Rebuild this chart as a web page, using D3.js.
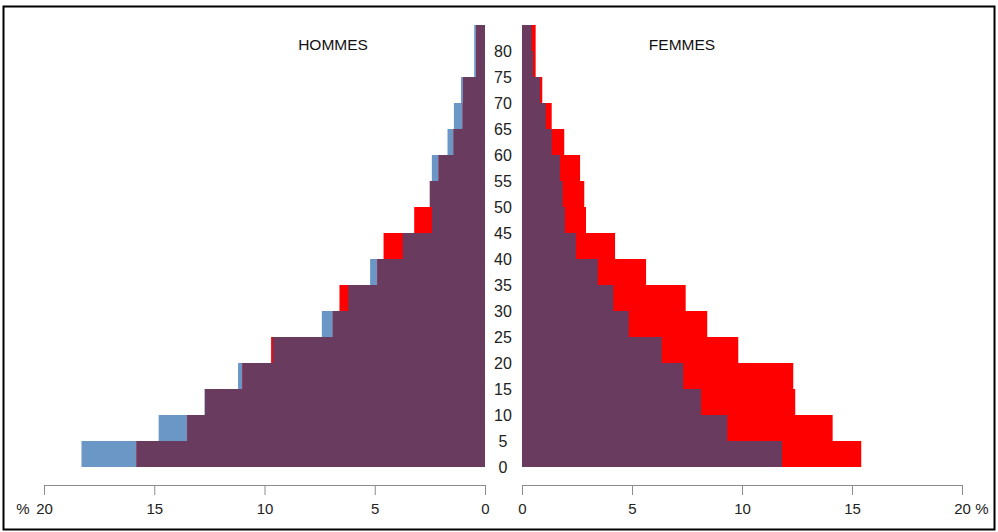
<!doctype html>
<html>
<head>
<meta charset="utf-8">
<script src="https://d3js.org/d3.v7.min.js"></script>
<style>
  body { margin: 0; background: #fff; }
  svg { display: block; font-family: "Liberation Sans", Arial, sans-serif; }
  .axis path, .axis line { stroke: #8c8c8c; }
  .axis text { font-size: 15px; fill: #222; }
</style>
</head>
<body>
<svg width="998" height="532"></svg>
<script>
// age groups (start of each 5-year class)
var ages = [0, 5, 10, 15, 20, 25, 30, 35, 40, 45, 50, 55, 60, 65, 70, 75, 80];
var ageLabels = ["0", "5", "10", "15", "20", "25", "30", "35", "40", "45", "50", "55", "60", "65", "70", "75", "80"];

// percent of population, men (left) and women (right), two series each
var hommesBleu  = [18.30, 14.80, 12.72, 11.20, 9.62, 7.40, 6.20, 5.21, 3.73, 2.41, 2.50, 2.41, 1.70, 1.41, 1.09, 0.49, 0.49];
var hommesRouge = [15.80, 13.50, 12.70, 11.00, 9.70, 6.90, 6.60, 4.88, 4.60, 3.21, 2.50, 2.10, 1.42, 1.01, 0.99, 0.40, 0.40];
var femmesBleu  = [11.82, 9.33, 8.14, 7.33, 6.35, 4.85, 4.15, 3.44, 2.45, 1.95, 1.85, 1.73, 1.35, 1.08, 0.82, 0.51, 0.44];
var femmesRouge = [15.42, 14.12, 12.42, 12.33, 9.83, 8.42, 7.44, 5.64, 4.23, 2.91, 2.83, 2.64, 1.92, 1.35, 0.92, 0.62, 0.62];

var ticks = [0, 5, 10, 15, 20];

var bleu = "#6b97c7", rouge = "#ff0000", violet = "#693b5f";

var svg = d3.select("svg");

// frame
svg.append("rect")
  .attr("x", 3.5).attr("y", 6.5)
  .attr("width", 991).attr("height", 523)
  .attr("fill", "none").attr("stroke", "#000").attr("stroke-width", 2);

var xL = d3.scaleLinear().domain([0, 20]).range([485, 44]);
var xR = d3.scaleLinear().domain([0, 20]).range([522, 962]);
var y = d3.scaleLinear().domain([0, 85]).range([467, 25]);
var step = 5;

var rowsH = ages.map(function(a, i) { return {age: a, b: hommesBleu[i], r: hommesRouge[i]}; });
var rowsF = ages.map(function(a, i) { return {age: a, b: femmesBleu[i], r: femmesRouge[i]}; });

function side(rows, x, left) {
  var g = svg.append("g");
  function draw(val, col) {
    g.selectAll(null).data(rows).enter().append("rect")
      .attr("x", function(d) { return left ? x(val(d)) : x(0); })
      .attr("width", function(d) { return Math.abs(x(val(d)) - x(0)); })
      .attr("y", function(d) { return y(d.age + step); })
      .attr("height", function(d) { return y(d.age) - y(d.age + step); })
      .attr("fill", col);
  }
  draw(function(d) { return d.b; }, bleu);
  draw(function(d) { return d.r; }, rouge);
  // overlap of the two series
  draw(function(d) { return Math.min(d.b, d.r); }, violet);
}
side(rowsH, xL, true);
side(rowsF, xR, false);

// age labels in the middle
svg.append("g").selectAll("text").data(ages).enter().append("text")
  .attr("x", 503)
  .attr("y", function(d) { return y(d); })
  .attr("dy", "0.36em")
  .attr("text-anchor", "middle")
  .style("font-size", "16px")
  .attr("fill", "#222")
  .text(function(d, i) { return ageLabels[i]; });

// axes
svg.append("g").attr("class", "axis")
  .attr("transform", "translate(0,485)")
  .call(d3.axisBottom(xL).tickValues(ticks).tickSize(10).tickSizeOuter(0).tickPadding(8));
svg.append("g").attr("class", "axis")
  .attr("transform", "translate(0,485)")
  .call(d3.axisBottom(xR).tickValues(ticks).tickSize(10).tickSizeOuter(0).tickPadding(8));

svg.append("text").attr("x", 23).attr("y", 514).attr("text-anchor", "middle")
  .style("font-size", "15px").attr("fill", "#222").text("%");
svg.append("text").attr("x", 982).attr("y", 514).attr("text-anchor", "middle")
  .style("font-size", "15px").attr("fill", "#222").text("%");

// titles
svg.append("text").attr("x", 333).attr("y", 50).attr("text-anchor", "middle")
  .style("font-size", "15.5px").attr("fill", "#111").text("HOMMES");
svg.append("text").attr("x", 682).attr("y", 50).attr("text-anchor", "middle")
  .style("font-size", "15.5px").attr("fill", "#111").text("FEMMES");
</script>
</body>
</html>
